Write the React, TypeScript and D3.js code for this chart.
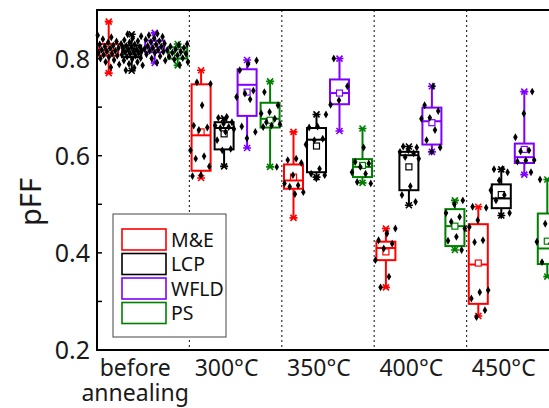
import React from "react";
import * as d3 from "d3";

const groups = ["before annealing", "300°C", "350°C", "400°C", "450°C"];
const seriesNames = ["M&E", "LCP", "WFLD", "PS"];
const seriesColors = ["#ff0000", "#000000", "#8000ff", "#008000"];
const yTicks = [0.2, 0.4, 0.6, 0.8];
const yMinorTicks = [0.3, 0.5, 0.7];

// stats per group: [low, q1, median, q3, high, mean]
const meStats = [
  [0.77, 0.806, 0.817, 0.83, 0.876, 0.818],
  [0.554, 0.569, 0.642, 0.747, 0.776, 0.649],
  [0.472, 0.532, 0.549, 0.582, 0.649, 0.556],
  [0.329, 0.385, 0.41, 0.423, 0.45, 0.402],
  [0.27, 0.295, 0.376, 0.459, 0.495, 0.379],
];
const lcpStats = [
  [0.775, 0.803, 0.815, 0.827, 0.85, 0.815],
  [0.578, 0.613, 0.657, 0.669, 0.677, 0.645],
  [0.556, 0.566, 0.633, 0.657, 0.685, 0.62],
  [0.498, 0.529, 0.601, 0.608, 0.619, 0.577],
  [0.477, 0.492, 0.512, 0.541, 0.572, 0.52],
];
const wfldStats = [
  [0.791, 0.813, 0.823, 0.837, 0.853, 0.824],
  [0.616, 0.682, 0.746, 0.778, 0.797, 0.731],
  [0.651, 0.706, 0.729, 0.757, 0.8, 0.729],
  [0.608, 0.623, 0.671, 0.699, 0.743, 0.668],
  [0.561, 0.585, 0.597, 0.625, 0.732, 0.613],
];
const psStats = [
  [0.786, 0.8, 0.813, 0.823, 0.83, 0.812],
  [0.577, 0.658, 0.676, 0.709, 0.753, 0.673],
  [0.544, 0.556, 0.577, 0.593, 0.656, 0.58],
  [0.406, 0.414, 0.455, 0.49, 0.508, 0.455],
  [0.351, 0.377, 0.409, 0.481, 0.551, 0.424],
];

const mePoints = [
  [0.848, 0.844, 0.84, 0.835, 0.833, 0.829, 0.827, 0.825, 0.822, 0.821, 0.818, 0.816, 0.815, 0.812, 0.81, 0.808, 0.806, 0.803, 0.8, 0.797, 0.793, 0.788, 0.782],
  [0.751, 0.748, 0.704, 0.662, 0.658, 0.653, 0.611, 0.599, 0.594, 0.578, 0.56, 0.558],
  [0.594, 0.591, 0.585, 0.56, 0.543, 0.539, 0.536, 0.525, 0.521],
  [0.45, 0.44, 0.426, 0.419, 0.409, 0.385, 0.351, 0.329],
  [0.495, 0.493, 0.467, 0.453, 0.426, 0.422, 0.323, 0.319, 0.306, 0.282, 0.268],
];
const lcpPoints = [
  [0.85, 0.846, 0.842, 0.838, 0.836, 0.833, 0.83, 0.829, 0.826, 0.824, 0.823, 0.821, 0.819, 0.818, 0.816, 0.815, 0.813, 0.811, 0.81, 0.808, 0.806, 0.804, 0.801, 0.799, 0.796, 0.793, 0.789, 0.786, 0.781, 0.776],
  [0.68, 0.678, 0.669, 0.666, 0.662, 0.659, 0.657, 0.655, 0.649, 0.632, 0.614, 0.611],
  [0.685, 0.66, 0.658, 0.635, 0.632, 0.623, 0.573, 0.563, 0.56, 0.553],
  [0.619, 0.617, 0.611, 0.608, 0.605, 0.597, 0.594, 0.537, 0.519, 0.505],
  [0.573, 0.572, 0.566, 0.549, 0.529, 0.519, 0.508, 0.482, 0.477],
];
const wfldPoints = [
  [0.851, 0.848, 0.845, 0.842, 0.839, 0.836, 0.834, 0.831, 0.829, 0.826, 0.825, 0.822, 0.82, 0.818, 0.816, 0.814, 0.812, 0.809, 0.805, 0.8, 0.796, 0.792],
  [0.796, 0.789, 0.776, 0.734, 0.728, 0.721, 0.716, 0.66, 0.649, 0.636],
  [0.8, 0.743, 0.714, 0.705],
  [0.743, 0.704, 0.692, 0.678, 0.676, 0.653, 0.632, 0.617, 0.608],
  [0.732, 0.687, 0.638, 0.611, 0.609, 0.591, 0.59, 0.588, 0.566],
];
const psPoints = [
  [0.83, 0.828, 0.825, 0.822, 0.819, 0.817, 0.814, 0.812, 0.81, 0.807, 0.804, 0.801, 0.798, 0.793, 0.787],
  [0.731, 0.704, 0.69, 0.687, 0.676, 0.669, 0.665, 0.662, 0.659, 0.577],
  [0.617, 0.587, 0.584, 0.577, 0.566, 0.563, 0.546, 0.543],
  [0.508, 0.5, 0.482, 0.474, 0.464, 0.45, 0.433, 0.425, 0.406],
  [0.551, 0.502, 0.46, 0.423, 0.42, 0.381, 0.351],
];

const allStats = [meStats, lcpStats, wfldStats, psStats];
const allPoints = [mePoints, lcpPoints, wfldPoints, psPoints];

const W = 549;
const H = 408;
const FONT = "'Noto Sans', 'Open Sans', sans-serif";

export default function App() {
  const left = 97;
  const top = 10;
  const bottom = 350;
  const x = d3.scaleBand<string>().domain(groups).range([left, left + 92.4 * 5]).padding(0);
  const xs = d3.scaleBand<string>().domain(seriesNames).range([-46, 46]).padding(0);
  const y = d3.scaleLinear().domain([0.2, 0.9]).range([bottom, top]);
  const boxW = 19;
  const diamond = d3.symbol().type(d3.symbolDiamond).size(18)();

  const jitter = (i: number, n: number) => {
    const f = ((i * 0.618034 + n * 0.31) % 1) - 0.5;
    return f * 22;
  };

  return (
    <svg
      width={W}
      height={H}
      style={{ position: "absolute", left: 0, top: 0, background: "#fff" }}
      fontFamily={FONT}
    >
      {groups.slice(1).map((g) => (
        <line
          key={g}
          x1={x(g)!}
          x2={x(g)!}
          y1={top}
          y2={bottom}
          stroke="#333"
          strokeWidth={1.2}
          strokeDasharray="2,3"
        />
      ))}

      {seriesNames.map((s, si) => {
        const color = seriesColors[si];
        return groups.map((g, gi) => {
          const [lo, q1, med, q3, hi, mean] = allStats[si][gi];
          const cx = x(g)! + x.bandwidth() / 2 + xs(s)! + xs.bandwidth() / 2;
          const pts = allPoints[si][gi];
          return (
            <g key={s + g}>
              <line x1={cx} x2={cx} y1={y(hi)} y2={y(q3)} stroke={color} strokeWidth={2} />
              <line x1={cx} x2={cx} y1={y(q1)} y2={y(lo)} stroke={color} strokeWidth={2} />
              <rect
                x={cx - boxW / 2}
                y={y(q3)}
                width={boxW}
                height={y(q1) - y(q3)}
                fill="none"
                stroke={color}
                strokeWidth={2}
              />
              <line x1={cx - boxW / 2} x2={cx + boxW / 2} y1={y(med)} y2={y(med)} stroke={color} strokeWidth={2} />
              <rect x={cx - 3} y={y(mean) - 3} width={6} height={6} fill="#fff" stroke={color} strokeWidth={1.2} />
              {[lo, hi].map((v, k) => (
                <path
                  key={k}
                  transform={`translate(${cx},${y(v)})`}
                  d="M-3,-3L3,3M-3,3L3,-3M-4,0L4,0"
                  stroke={color}
                  strokeWidth={1.6}
                />
              ))}
              {pts.map((v, k) => (
                <path
                  key={"p" + k}
                  transform={`translate(${cx + jitter(k, gi + si)},${y(v)})`}
                  d={diamond!}
                  fill="#000"
                />
              ))}
            </g>
          );
        });
      })}

      <line x1={left} x2={W} y1={top} y2={top} stroke="#000" strokeWidth={2} />
      <line x1={left} x2={W} y1={bottom} y2={bottom} stroke="#000" strokeWidth={2} />
      <line x1={left} x2={left} y1={top - 1} y2={bottom + 1} stroke="#000" strokeWidth={2} />
      {yTicks.map((t) => (
        <g key={t}>
          <line x1={left} x2={left + 5} y1={y(t)} y2={y(t)} stroke="#000" strokeWidth={1.5} />
          <text x={90} y={y(t) + 9} textAnchor="end" fontSize={25} fill="#1a1a1a">
            {t.toFixed(1)}
          </text>
        </g>
      ))}
      {yMinorTicks.map((t) => (
        <line key={t} x1={left} x2={left + 5} y1={y(t)} y2={y(t)} stroke="#000" strokeWidth={1.5} />
      ))}
      <text transform={`translate(41,202) rotate(-90)`} textAnchor="middle" fontSize={29} fill="#1a1a1a">
        pFF
      </text>

      {groups.map((g, i) => {
        const cx = x(g)! + x.bandwidth() / 2;
        if (i === 0) {
          const parts = g.split(" ");
          return (
            <g key={g}>
              <text x={cx - 8} y={376} textAnchor="middle" fontSize={23} fill="#1a1a1a">
                {parts[0]}
              </text>
              <text x={cx - 8} y={401} textAnchor="middle" fontSize={23} fill="#1a1a1a">
                {parts[1]}
              </text>
            </g>
          );
        }
        return (
          <text key={g} x={cx - 9} y={376} textAnchor="middle" fontSize={23} fill="#1a1a1a">
            {g}
          </text>
        );
      })}

      <rect x={113} y={214} width={113} height={123} fill="#fff" stroke="#444" strokeWidth={1} />
      {seriesNames.map((s, i) => (
        <g key={s} transform={`translate(0,${229 + i * 24.5})`}>
          <rect x={122} y={0} width={44} height={21} fill="#fff" stroke={seriesColors[i]} strokeWidth={1.6} />
          <text x={171} y={17.5} fontSize={19.5} fill="#111">
            {s}
          </text>
        </g>
      ))}
    </svg>
  );
}
